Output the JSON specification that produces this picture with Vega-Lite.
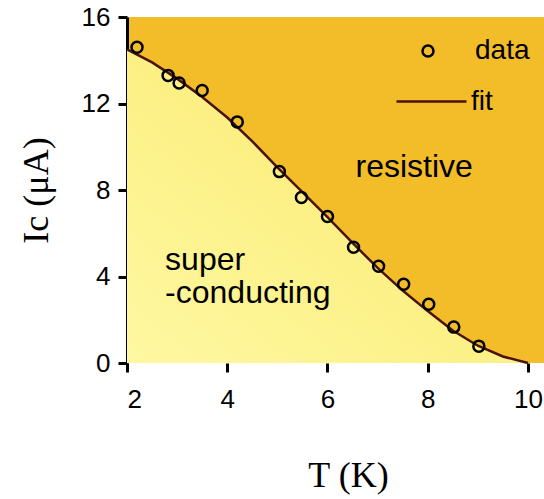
{
  "$schema": "https://vega.github.io/schema/vega-lite/v6.json",
  "width": 417,
  "height": 346,
  "autosize": {"type": "none"},
  "padding": {"left": 127, "top": 17, "right": 0, "bottom": 136},
  "background": "white",
  "config": {
    "view": {"stroke": null, "fill": "#f2bd28"},
    "axis": {
      "domainColor": "black", "domainWidth": 3, "tickColor": "black", "tickWidth": 3, "tickSize": 9,
      "labelFont": "Liberation Sans", "labelFontSize": 26, "labelColor": "black",
      "titleFont": "Liberation Serif", "titleFontSize": 36, "titleFontWeight": "normal", "titleColor": "black",
      "grid": false
    },
    "legend": {"labelFont": "Liberation Sans", "labelColor": "black", "padding": 0, "orient": "none"}
  },
  "datasets": {
    "points": [
      {"T": 2.2, "Ic": 14.6, "series": "data"},
      {"T": 2.82, "Ic": 13.3, "series": "data"},
      {"T": 3.04, "Ic": 12.95, "series": "data"},
      {"T": 3.5, "Ic": 12.6, "series": "data"},
      {"T": 4.2, "Ic": 11.15, "series": "data"},
      {"T": 5.04, "Ic": 8.85, "series": "data"},
      {"T": 5.48, "Ic": 7.65, "series": "data"},
      {"T": 6.0, "Ic": 6.77, "series": "data"},
      {"T": 6.52, "Ic": 5.35, "series": "data"},
      {"T": 7.02, "Ic": 4.47, "series": "data"},
      {"T": 7.52, "Ic": 3.64, "series": "data"},
      {"T": 8.02, "Ic": 2.72, "series": "data"},
      {"T": 8.52, "Ic": 1.66, "series": "data"},
      {"T": 9.02, "Ic": 0.78, "series": "data"}
    ],
    "fit": [
      {"T": 2.0, "Ic": 14.5, "series2": "fit"},
      {"T": 2.5, "Ic": 13.9, "series2": "fit"},
      {"T": 3.0, "Ic": 13.15, "series2": "fit"},
      {"T": 3.5, "Ic": 12.3, "series2": "fit"},
      {"T": 4.0, "Ic": 11.35, "series2": "fit"},
      {"T": 4.5, "Ic": 10.25, "series2": "fit"},
      {"T": 5.0, "Ic": 9.05, "series2": "fit"},
      {"T": 5.5, "Ic": 7.9, "series2": "fit"},
      {"T": 6.0, "Ic": 6.75, "series2": "fit"},
      {"T": 6.5, "Ic": 5.55, "series2": "fit"},
      {"T": 7.0, "Ic": 4.4, "series2": "fit"},
      {"T": 7.5, "Ic": 3.35, "series2": "fit"},
      {"T": 8.0, "Ic": 2.4, "series2": "fit"},
      {"T": 8.5, "Ic": 1.5, "series2": "fit"},
      {"T": 9.0, "Ic": 0.8, "series2": "fit"},
      {"T": 9.5, "Ic": 0.3, "series2": "fit"},
      {"T": 10.0, "Ic": 0.0, "series2": "fit"}
    ],
    "notes": [
      {"T": 6.56, "Ic": 8.6, "label": "resistive"},
      {"T": 2.76, "Ic": 4.3, "label": "super"},
      {"T": 2.76, "Ic": 2.77, "label": "-conducting"}
    ]
  },
  "encoding": {
    "x": {"field": "T", "type": "quantitative", "scale": {"domain": [2, 10.32], "nice": false, "zero": false},
      "axis": {"values": [2, 4, 6, 8, 10], "domain": false, "labelPadding": 14, "title": "T (K)", "titleX": 221, "titleY": 112, "titleBaseline": "middle", "titleAlign": "center"}},
    "y": {"field": "Ic", "type": "quantitative", "scale": {"domain": [0, 16], "nice": false},
      "axis": {"values": [0, 4, 8, 12, 16], "labelPadding": 8, "title": "Ic (μA)", "titlePadding": 26}}
  },
  "layer": [
    {
      "data": {"name": "fit"},
      "mark": {"type": "area", "color": {"gradient": "linear", "x1": 0, "y1": 1, "x2": 1, "y2": 0,
        "stops": [{"offset": 0, "color": "#fef8a2"}, {"offset": 0.5, "color": "#fcf084"}, {"offset": 1, "color": "#f9e46a"}]}}
    },
    {
      "mark": {"type": "rule", "color": "black", "strokeWidth": 3},
      "encoding": {
        "x": {"datum": 2, "type": "quantitative"}, "x2": {"datum": 10},
        "y": {"datum": 0, "type": "quantitative"}
      }
    },
    {
      "data": {"name": "fit"},
      "mark": {"type": "line", "strokeWidth": 2.5},
      "encoding": {
        "stroke": {"field": "series2", "type": "nominal", "scale": {"range": ["#4a1212"]},
          "legend": {"title": null, "symbolType": "stroke", "symbolSize": 4900, "symbolStrokeWidth": 2.5,
            "labelFontSize": 28, "labelOffset": 3, "legendX": 268, "legendY": 48}}
      }
    },
    {
      "data": {"name": "points"},
      "mark": {"type": "point", "filled": false, "size": 121, "strokeWidth": 2.5, "color": "black", "opacity": 1},
      "encoding": {
        "shape": {"field": "series", "type": "nominal", "scale": {"range": ["circle"]},
          "legend": {"title": null, "symbolSize": 121, "symbolStrokeWidth": 2.5, "symbolStrokeColor": "black", "symbolFillColor": "transparent",
            "symbolOpacity": 1, "labelFontSize": 28, "labelOffset": 33, "legendX": 287, "legendY": 20}}
      }
    },
    {
      "data": {"name": "notes"},
      "mark": {"type": "text", "font": "Liberation Sans", "fontSize": 32, "align": "left", "baseline": "alphabetic", "color": "black"},
      "encoding": {"text": {"field": "label"}}
    }
  ]
}
